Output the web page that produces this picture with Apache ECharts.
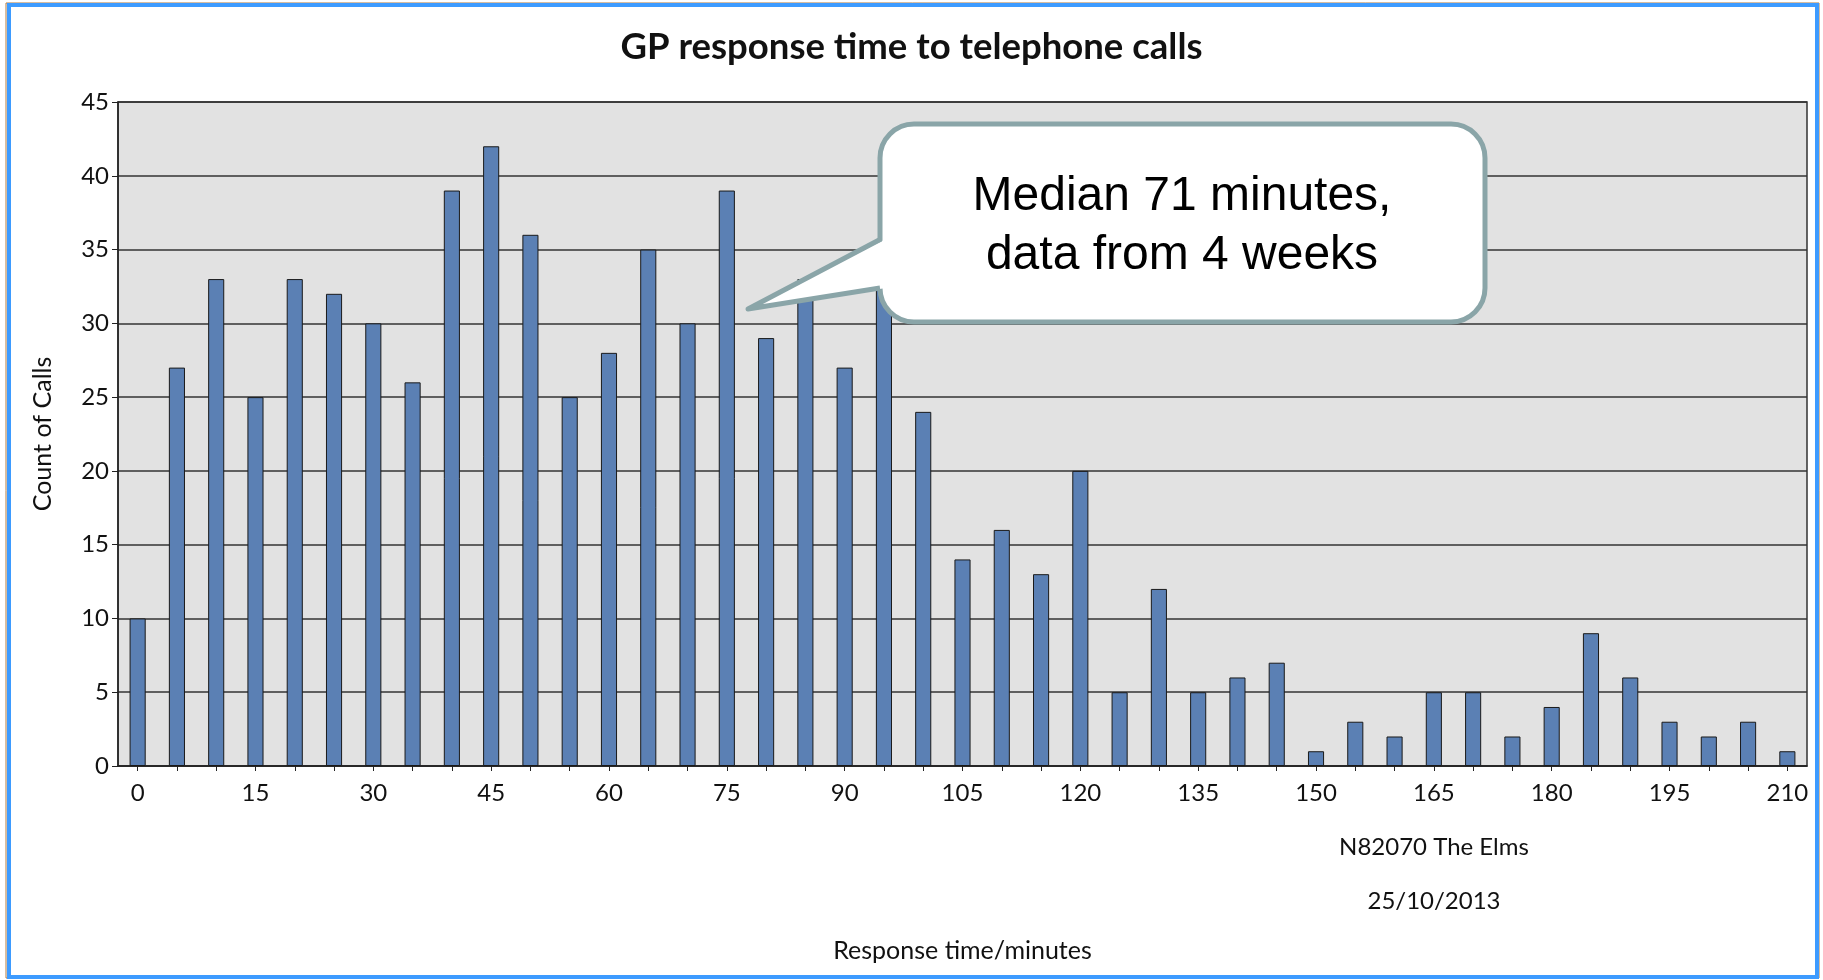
<!DOCTYPE html>
<html>
<head>
<meta charset="utf-8">
<title>GP response time to telephone calls</title>
<script src="https://cdn.jsdelivr.net/npm/echarts@6/dist/echarts.min.js"></script>
<style>
  html, body { margin: 0; padding: 0; background: #ffffff; }
  #chart { width: 1823px; height: 980px; }
</style>
</head>
<body>
<div id="chart"></div>
<script>
// response time buckets (minutes)
var times = ['0', '5', '10', '15', '20', '25', '30', '35', '40', '45',
  '50', '55', '60', '65', '70', '75', '80', '85', '90', '95',
  '100', '105', '110', '115', '120', '125', '130', '135', '140', '145',
  '150', '155', '160', '165', '170', '175', '180', '185', '190', '195',
  '200', '205', '210'];
// count of calls per bucket
var counts = [10, 27, 33, 25, 33, 32, 30, 26, 39, 42,
  36, 25, 28, 35, 30, 39, 29, 33, 27, 33,
  24, 14, 16, 13, 20, 5, 12, 5, 6, 7,
  1, 3, 2, 5, 5, 2, 4, 9, 6, 3,
  2, 3, 1];
var yTicks = [0, 5, 10, 15, 20, 25, 30, 35, 40, 45];

var labelFont = 'Lato, "Open Sans", sans-serif';
var calloutColor = '#8aa5a8';

var chart = echarts.init(document.getElementById('chart'));

var option = {
  animation: false,
  title: {
    text: 'GP response time to telephone calls',
    left: 'center',
    top: 24,
    textStyle: { fontFamily: labelFont, fontSize: 36.5, fontWeight: 'bold', color: '#111' }
  },
  grid: {
    left: 118,
    right: 16,
    top: 102,
    bottom: 214,
    show: true,
    backgroundColor: '#e2e2e2',
    borderColor: '#333',
    borderWidth: 1.5
  },
  xAxis: {
    type: 'category',
    data: times,
    name: 'Response time/minutes',
    nameLocation: 'middle',
    nameGap: 172,
    nameTextStyle: { fontFamily: labelFont, fontSize: 25, color: '#111' },
    axisLine: { lineStyle: { color: '#222', width: 1.5 } },
    axisTick: { show: true, alignWithLabel: true, interval: 0, length: 5, lineStyle: { color: '#222' } },
    axisLabel: { interval: 2, margin: 15, fontFamily: labelFont, fontSize: 24, color: '#111' }
  },
  yAxis: {
    type: 'value',
    min: yTicks[0],
    max: yTicks[yTicks.length - 1],
    interval: 5,
    name: 'Count of Calls',
    nameLocation: 'middle',
    nameGap: 63,
    nameTextStyle: { fontFamily: labelFont, fontSize: 25, color: '#111' },
    axisLine: { show: true, lineStyle: { color: '#222', width: 1.5 } },
    axisTick: { show: true, length: 6, lineStyle: { color: '#222' } },
    axisLabel: { margin: 9, fontFamily: labelFont, fontSize: 24, color: '#111' },
    splitLine: { show: true, lineStyle: { color: '#333', width: 1.5 } }
  },
  series: [
    {
      type: 'bar',
      data: counts,
      barWidth: '41%',
      itemStyle: { color: '#5b80b4', borderColor: '#1a1a1a', borderWidth: 1 }
    }
  ],
  graphic: [
    // outer frame
    { type: 'rect', shape: { x: 6, y: 3, width: 1813, height: 975 }, style: { fill: 'none', stroke: '#b07a40', lineWidth: 1 } },
    { type: 'rect', shape: { x: 9, y: 5, width: 1808, height: 972 }, style: { fill: 'none', stroke: '#3d9bff', lineWidth: 4 } },
    // footnotes
    { type: 'text', x: 1434, y: 847, style: { text: 'N82070 The Elms', align: 'center', verticalAlign: 'middle', fontFamily: labelFont, fontSize: 24, fill: '#111' } },
    { type: 'text', x: 1434, y: 901, style: { text: '25/10/2013', align: 'center', verticalAlign: 'middle', fontFamily: labelFont, fontSize: 24, fill: '#111' } },
    // callout box
    {
      type: 'rect',
      shape: { x: 880, y: 124, width: 605, height: 198, r: 34 },
      style: { fill: '#ffffff', stroke: calloutColor, lineWidth: 5 },
      z: 100
    },
    {
      type: 'polygon',
      shape: { points: [[886, 288], [748, 309], [886, 239]] },
      style: { fill: '#ffffff' },
      z: 101
    },
    {
      type: 'polyline',
      shape: { points: [[880, 288], [748, 309], [881, 239]] },
      style: { fill: null, stroke: calloutColor, lineWidth: 5, lineJoin: 'round' },
      z: 102
    },
    {
      type: 'text',
      x: 1182,
      y: 226,
      style: {
        text: 'Median 71 minutes,\ndata from 4 weeks',
        align: 'center',
        verticalAlign: 'middle',
        lineHeight: 59,
        fontFamily: '"Liberation Sans", Arial, sans-serif',
        fontSize: 48,
        fill: '#000'
      },
      z: 103
    }
  ]
};

chart.setOption(option);
</script>
</body>
</html>
